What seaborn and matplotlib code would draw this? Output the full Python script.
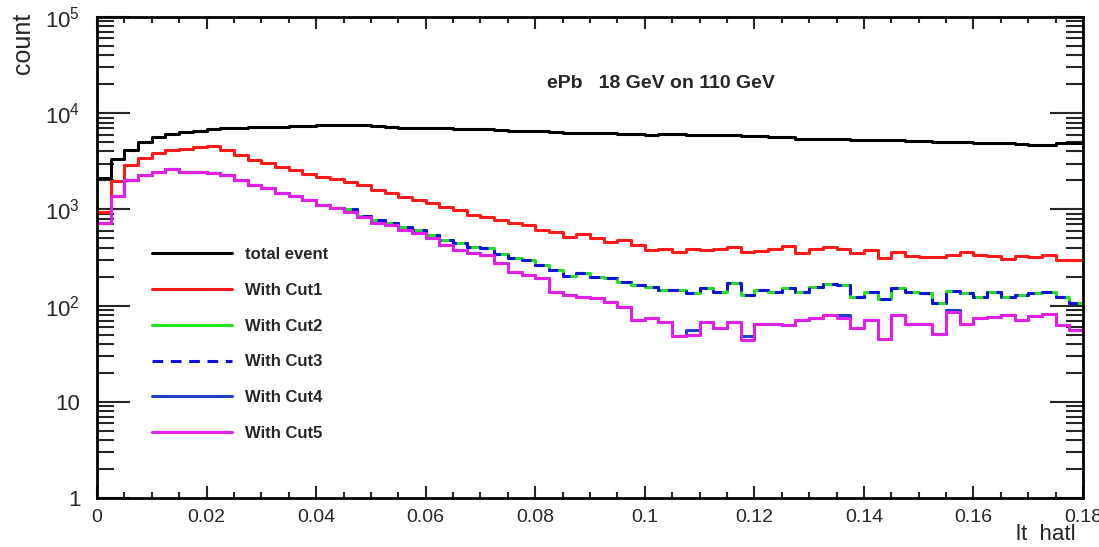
import numpy as np
import matplotlib
matplotlib.use("Agg")
import matplotlib.pyplot as plt
import seaborn as sns
from matplotlib.lines import Line2D
from matplotlib.ticker import MultipleLocator, LogLocator, FuncFormatter, NullFormatter

# |t| histogram: 72 bins of 0.0025 between 0 and 0.18
t_lo, t_hi, n_bins = 0.0, 0.18, 72

total_event = [2100, 3320, 4140, 5060, 5610, 6080, 6380, 6580, 6800, 6970,
               7080, 7140, 7250, 7250, 7420, 7420, 7490, 7490, 7540, 7540,
               7400, 7250, 7100, 7000, 6970, 6950, 6850, 6800, 6780, 6700,
               6600, 6580, 6500, 6350, 6260, 6300, 6250, 6200, 6100, 6050,
               6000, 6100, 6150, 5950, 5900, 5950, 5900, 5800, 5750, 5700,
               5700, 5450, 5400, 5400, 5450, 5300, 5250, 5300, 5250, 5200,
               5100, 5050, 5050, 5000, 4950, 4900, 4850, 4800, 4700, 4680,
               4850, 4850]
cut1 = [950, 1990, 2890, 3400, 3830, 4140, 4210, 4420, 4560, 4140,
        3680, 3260, 3010, 2780, 2570, 2335, 2190, 2070, 1940, 1795,
        1590, 1470, 1355, 1250, 1157, 1067, 985, 875, 840, 776,
        717, 688, 611, 587, 520, 555, 500, 461, 481, 427,
        378, 385, 363, 385, 378, 391, 404, 363, 370, 385,
        417, 355, 385, 404, 385, 355, 378, 310, 363, 328,
        322, 318, 336, 363, 336, 328, 303, 328, 322, 336,
        298, 298]
cut2 = [717, 1378, 2020, 2280, 2470, 2610, 2470, 2470, 2370, 2280,
        2020, 1795, 1657, 1470, 1378, 1250, 1110, 1040, 1002, 854,
        776, 728, 662, 611, 542, 481, 444, 410, 394, 344,
        310, 298, 264, 234, 203, 216, 200, 192, 177, 164,
        157, 145, 145, 136, 151, 140, 170, 129, 145, 140,
        151, 140, 157, 168, 164, 124, 140, 116, 151, 140,
        134, 107, 143, 136, 124, 140, 122, 129, 134, 140,
        124, 106]
cut3 = [717, 1378, 2020, 2280, 2470, 2610, 2470, 2470, 2370, 2280,
        2020, 1795, 1657, 1470, 1378, 1250, 1110, 1040, 1002, 854,
        776, 728, 662, 611, 542, 481, 444, 410, 394, 344,
        310, 298, 264, 234, 203, 216, 200, 192, 177, 164,
        157, 145, 145, 136, 151, 140, 170, 129, 145, 140,
        151, 140, 157, 168, 164, 124, 140, 116, 151, 140,
        134, 107, 143, 136, 124, 140, 122, 129, 134, 140,
        124, 106]
cut4 = [717, 1378, 2020, 2280, 2470, 2610, 2470, 2470, 2370, 2280,
        2020, 1795, 1657, 1470, 1378, 1250, 1110, 1026, 947, 840,
        716, 689, 611, 570, 500, 427, 378, 349, 336, 275,
        225, 208, 192, 140, 129, 124, 119, 110, 97, 71,
        74, 68, 48, 56, 68, 58, 68, 48, 65, 65,
        63, 71, 74, 80, 80, 58, 71, 45, 80, 65,
        64, 51, 90, 65, 74, 77, 80, 71, 78, 82,
        63, 56]
cut5 = [717, 1378, 2020, 2280, 2470, 2610, 2470, 2470, 2370, 2280,
        2020, 1795, 1657, 1470, 1378, 1250, 1110, 1026, 947, 840,
        716, 689, 611, 564, 500, 427, 378, 349, 336, 275,
        225, 208, 192, 140, 129, 124, 119, 110, 97, 71,
        74, 68, 48, 49, 68, 58, 68, 44, 65, 65,
        63, 71, 74, 80, 74, 58, 71, 45, 80, 65,
        64, 51, 86, 65, 74, 77, 80, 71, 78, 82,
        63, 56]

labels = ["total event", "With Cut1", "With Cut2", "With Cut3", "With Cut4", "With Cut5"]
colors = ["black", "#ff1a1a", "#22e022", "#1010e0", "#1f3fd0", "#e020e8"]
styles = ["-", "-", "-", (0, (3.5, 2.5)), "-", "-"]
series = [total_event, cut1, cut2, cut3, cut4, cut5]

sns.set_style("ticks")
plt.rcParams["font.family"] = ["Liberation Sans", "DejaVu Sans"]

fig = plt.figure(figsize=(10.99, 5.47), dpi=100)
ax = fig.add_axes([97 / 1099, 1 - 498 / 547, 986 / 1099, 481 / 547])

width = (t_hi - t_lo) / n_bins
centers = t_lo + width * (np.arange(n_bins) + 0.5)

for counts, color, ls in zip(series, colors, styles):
    sns.histplot(x=centers, weights=np.asarray(counts, float), bins=n_bins,
                 binrange=(t_lo, t_hi), element="step", fill=False,
                 color=color, linestyle=ls, linewidth=2.2, ax=ax)

ax.set_yscale("log")
ax.set_xlim(t_lo, t_hi)
ax.set_ylim(1, 1e5)
ax.set_xlabel("")
ax.set_ylabel("")

ax.xaxis.set_major_locator(MultipleLocator(0.02))
ax.xaxis.set_minor_locator(MultipleLocator(0.005))
ax.xaxis.set_major_formatter(FuncFormatter(lambda v, p: f"{v:g}"))
ax.yaxis.set_major_locator(LogLocator(base=10))
ax.yaxis.set_minor_locator(LogLocator(base=10, subs=np.arange(2, 10)))
ax.yaxis.set_minor_formatter(NullFormatter())


def ylab(v, p):
    n = int(round(np.log10(v)))
    if n == 0:
        return "1"
    if n == 1:
        return "10"
    return r"$\mathregular{10^{%d}}$" % n


ax.yaxis.set_major_formatter(FuncFormatter(ylab))

for s in ax.spines.values():
    s.set_linewidth(2)
    s.set_color("black")
ax.tick_params(axis="x", which="major", direction="in", length=8.5, width=1.5,
               top=True, labelsize=14, pad=8)
ax.tick_params(axis="x", which="minor", direction="in", length=4.5, width=1.5, top=True)
ax.tick_params(axis="y", which="major", direction="in", length=24, width=1.5,
               right=True, labelsize=16, pad=12)
ax.tick_params(axis="y", which="minor", direction="in", length=12, width=1.5, right=True)

handles = [Line2D([], [], color=c, linestyle=ls, linewidth=2.2) for c, ls in zip(colors, styles)]
leg = ax.legend(handles, labels, loc="upper left", bbox_to_anchor=(0.0558, 0.522),
                frameon=False, handlelength=4.8, handletextpad=0.78, labelspacing=1.25,
                borderpad=0, borderaxespad=0, prop={"weight": "bold", "size": 12})

ax.text(0.572, 0.861, "ePb   18 GeV on 110 GeV", transform=ax.transAxes,
        ha="center", va="center", fontsize=14, fontweight="bold")
fig.text(0.021, 1 - 13 / 547, "count", rotation=90, ha="center", va="top", fontsize=18)
fig.text(1076 / 1099, 2 / 547, "lt  hatl", ha="right", va="bottom", fontsize=16)

fig.savefig("out.png", dpi=100)
